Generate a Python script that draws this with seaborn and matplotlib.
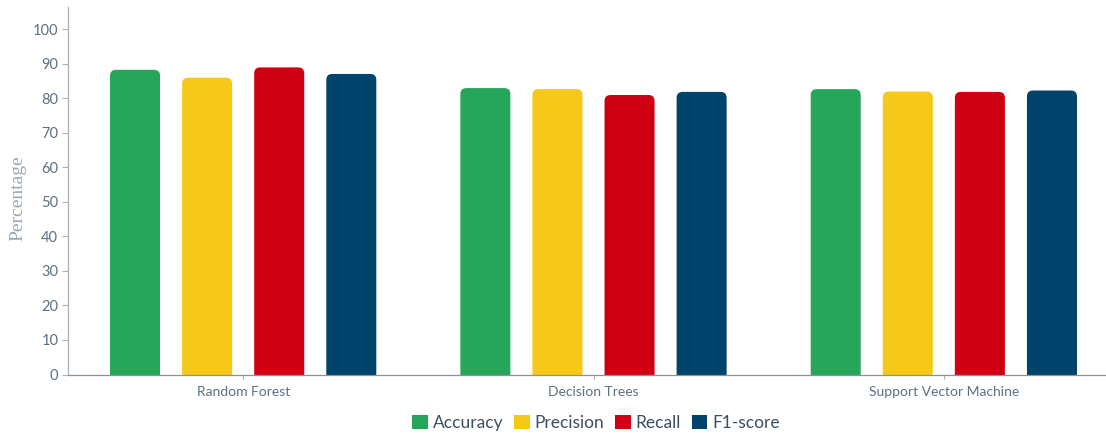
import matplotlib
matplotlib.use("Agg")
import matplotlib.pyplot as plt
import seaborn as sns
import pandas as pd
from matplotlib.patches import FancyBboxPatch, Patch

# ---- data ----
models = ["Random Forest", "Decision Trees", "Support Vector Machine"]
metrics = ["Accuracy", "Precision", "Recall", "F1-score"]
accuracy = [88.3, 83.0, 82.7]
precision = [86.0, 82.7, 82.0]
recall = [89.0, 81.0, 81.9]
f1_score = [87.1, 81.9, 82.3]
y_ticks = [0, 10, 20, 30, 40, 50, 60, 70, 80, 90, 100]
colors = ["#26a65b", "#f5c819", "#d00014", "#00446b"]

rows = []
for m, vals in zip(metrics, [accuracy, precision, recall, f1_score]):
    for model, v in zip(models, vals):
        rows.append({"Model": model, "Metric": m, "Value": v})
df = pd.DataFrame(rows)

sns.set_theme(style="white")
plt.rcParams["font.family"] = ["Lato", "DejaVu Sans"]

W, H = 1106, 434
fig = plt.figure(figsize=(W / 100, H / 100), dpi=100)
ax_left, ax_right = 68 / W, 1119 / W
ax_bottom, ax_top = (H - 374.5) / H, (H - 7) / H
ax = fig.add_axes([ax_left, ax_bottom, ax_right - ax_left, ax_top - ax_bottom])

sns.barplot(data=df, x="Model", y="Value", hue="Metric", order=models,
            hue_order=metrics, palette=colors, width=0.823, gap=0.306,
            legend=False, ax=ax, saturation=1)

ax.set_xlim(-0.5, 2.5)
ymax = 106.5
ax.set_ylim(0, ymax)

# rounded tops
px_per_x = (ax_right - ax_left) * W / 3.0
px_per_y = (ax_top - ax_bottom) * H / ymax
r_px = 6
rs = r_px / px_per_x
ma = px_per_x / px_per_y
for p in list(ax.patches):
    x, w, h = p.get_x(), p.get_width(), p.get_height()
    fc = p.get_facecolor()
    p.remove()
    ry = r_px / px_per_y
    fb = FancyBboxPatch((x, -ry), w, h + ry,
                        boxstyle=f"round,pad=0,rounding_size={rs}",
                        mutation_aspect=ma, facecolor=fc, edgecolor="none",
                        clip_on=True)
    ax.add_patch(fb)

for s in ["top", "right"]:
    ax.spines[s].set_visible(False)
ax.spines["left"].set_color("#a8b0b8")
ax.spines["bottom"].set_color("#8a9298")
ax.spines["left"].set_linewidth(0.9)
ax.spines["bottom"].set_linewidth(0.9)

ax.set_yticks(y_ticks)
ax.tick_params(axis="y", left=True, length=4, width=0.8, color="#a8b0b8",
               labelsize=10.5, labelcolor="#5d7183", pad=3)
ax.tick_params(axis="x", bottom=True, length=3, width=0.8, color="#a8b0b8",
               labelsize=10, labelcolor="#5d7183", pad=5)
ax.set_xlabel("")
ax.set_ylabel("")
fig.text(18 / W, 1 - 198 / H, "Percentage", rotation=90, ha="center",
         va="center", fontsize=14, color="#94a8ba",
         family=["Liberation Serif", "DejaVu Serif"])

handles = [Patch(facecolor=c, edgecolor="none", label=m)
           for c, m in zip(colors, metrics)]
leg = fig.legend(handles=handles, loc="center",
                 bbox_to_anchor=(596 / W, 1 - 423 / H), ncol=4, frameon=False,
                 fontsize=12.5, handlelength=0.9, handleheight=0.9,
                 handletextpad=0.3, columnspacing=0.6, borderaxespad=0)
for t in leg.get_texts():
    t.set_color("#3b4f63")

fig.savefig("out.png", dpi=100)
